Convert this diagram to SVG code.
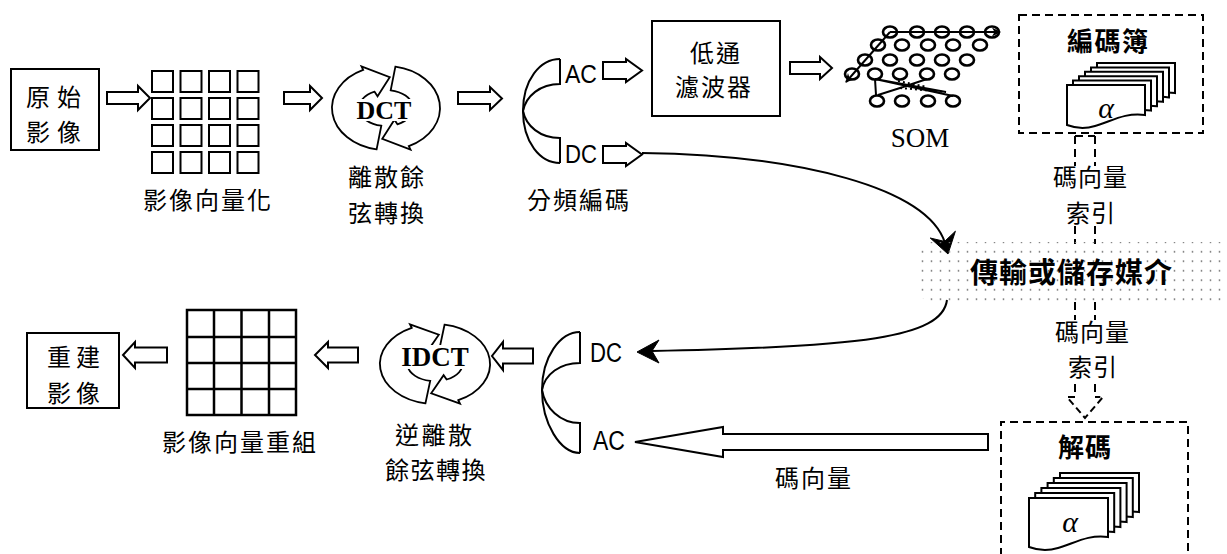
<svg xmlns="http://www.w3.org/2000/svg" width="1227" height="554" viewBox="0 0 1227 554">
<defs>
<style>
.ln{fill:none;stroke:#000;stroke-width:2}
.bx{fill:#fff;stroke:#000;stroke-width:2}
.ha{fill:#fff;stroke:#000;stroke-width:2;stroke-linejoin:miter}
.cy{fill:#fff;stroke:#000;stroke-width:1.8;stroke-linejoin:miter}
.dash{fill:none;stroke:#000;stroke-width:2;stroke-dasharray:8 5}
.cj{font-family:'Noto Sans CJK TC','Noto Sans CJK SC',sans-serif;font-size:24px;fill:#000}
.cjb{font-family:'Noto Sans CJK TC','Noto Sans CJK SC',sans-serif;font-weight:700;fill:#000}
.ac{font-family:'Liberation Sans',Arial,sans-serif;fill:#000}
.sf{font-family:'Liberation Serif','Times New Roman',serif;fill:#000}
.som{fill:none;stroke:#000;stroke-width:2.6}
.card{fill:#fff;stroke:#000;stroke-width:2}
</style>
<pattern id="dots" width="9" height="9.5" patternUnits="userSpaceOnUse">
<circle cx="4.5" cy="4.75" r="0.9" fill="#7a7a7a"/>
</pattern>
<g id="cyc">
<path class="cy" d="M9.38,-41.36 A54,42 0 0 1 22.82,38.07 L24.51,41.69 L-3.75,30.88 L8.45,11.78 L11.41,16.31 A27,18 0 0 0 4.69,-17.73 Z"/>
<path class="cy" d="M-9.38,41.36 A54,42 0 0 1 -22.82,-38.07 L-24.51,-41.69 L3.75,-30.88 L-8.45,-11.78 L-11.41,-16.31 A27,18 0 0 0 -4.69,17.73 Z"/>
</g>
<path id="cardA" class="card" d="M0,0 H78 V30 C58,27 43,37 28,41 C18,44 8,43 0,40 Z"/>
<path id="cardB" class="card" d="M0,0 H79 V39 C59,36 44,46 29,50 C19,53 8,52 0,49 Z"/>
<marker id="fh" viewBox="0 0 10 10" refX="9" refY="5" markerWidth="9" markerHeight="9" orient="auto" markerUnits="userSpaceOnUse">
<path d="M0,0 L10,5 L0,10 L3,5 Z" fill="#000"/>
</marker>
</defs>

<rect width="1227" height="554" fill="#fff"/>

<g id="connectors">
<polygon class="ha" points="107,92 138,92 138,86 150,98 138,110 138,104 107,104"/>
<polygon class="ha" points="284,92 310,92 310,86 322,98 310,110 310,104 284,104"/>
<polygon class="ha" points="458,92 490,92 490,87 502,98.5 490,110 490,104 458,104"/>
<polygon class="ha" points="603,62 626,62 626,59 642,70.5 626,82 626,79 603,79"/>
<polygon class="ha" points="603,146 626,146 626,143 642,154.5 626,166 626,163 603,163"/>
<polygon class="ha" points="790,62 820,62 820,57 832,68 820,79 820,74 790,74"/>
<polygon class="ha" points="167,347.5 135,347.5 135,342 123,355 135,368 135,362.5 167,362.5"/>
<polygon class="ha" points="358,347.5 328,347.5 328,342 315,355 328,368 328,362.5 358,362.5"/>
<polygon class="ha" points="533,348.5 503,348.5 503,342 492,356 503,370 503,363.5 533,363.5"/>
<polygon class="ha" points="988,434 723,434 723,427 635,442 723,457 723,450 988,450"/>
<path class="ln" d="M642,153 C800,155 928,188 945,243"/>
<path d="M948,254 L955.4,231.2 L944.6,241.4 L930.2,238 Z" fill="#000" stroke="#000" stroke-width="1" stroke-linejoin="round"/>
<path class="ln" d="M947,300 C942,338 860,347 652,351"/>
<path d="M637,352 L659,340 L652,351 L659,363 Z" fill="#000" stroke="#000" stroke-width="1" stroke-linejoin="round"/>
<path class="dash" d="M1075,136 H1095"/>
<path class="dash" d="M1075,136 V166 M1095,136 V166"/>
<path class="dash" d="M1075,226 V244 M1095,226 V244"/>
<path class="dash" d="M1075,302 V320 M1095,302 V320"/>
<path class="dash" d="M1075,384 V397 M1095,384 V397"/>
<path class="dash" style="stroke-dasharray:7 4" d="M1075,397 H1067 L1085,418 L1103,397 H1095"/>
</g>

<g id="n-original">
<rect class="bx" x="11" y="69" width="88" height="81"/>
<text class="cj" x="26" y="106" letter-spacing="7">原始</text>
<text class="cj" x="26" y="141" letter-spacing="7">影像</text>
</g>

<g id="n-vectorize">
<g class="bx">
<rect x="152" y="71" width="21" height="21"/><rect x="180.5" y="71" width="21" height="21"/><rect x="209" y="71" width="21" height="21"/><rect x="237.5" y="71" width="21" height="21"/>
<rect x="152" y="98" width="21" height="21"/><rect x="180.5" y="98" width="21" height="21"/><rect x="209" y="98" width="21" height="21"/><rect x="237.5" y="98" width="21" height="21"/>
<rect x="152" y="125" width="21" height="21"/><rect x="180.5" y="125" width="21" height="21"/><rect x="209" y="125" width="21" height="21"/><rect x="237.5" y="125" width="21" height="21"/>
<rect x="152" y="152" width="21" height="21"/><rect x="180.5" y="152" width="21" height="21"/><rect x="209" y="152" width="21" height="21"/><rect x="237.5" y="152" width="21" height="21"/>
</g>
<text class="cj" x="143" y="209" letter-spacing="2">影像向量化</text>
</g>

<g id="n-dct">
<use href="#cyc" transform="translate(386,108)"/>
<rect x="353" y="99" width="63" height="22" fill="#fff"/>
<text class="sf" x="384" y="119" font-size="26" font-weight="700" text-anchor="middle">DCT</text>
<text class="cj" x="348" y="186" letter-spacing="2">離散餘</text>
<text class="cj" x="348" y="222" letter-spacing="2">弦轉換</text>
</g>

<g id="n-split">
<path class="ln" d="M560,59 C540,59 523,80 523,111 C523,142 540,163 560,163"/>
<path class="ln" d="M560,59 V84 C540,84 526,96 523,111 C526,126 540,138 560,138 V163"/>
<text class="ac" x="565" y="83" font-size="25" textLength="32" lengthAdjust="spacingAndGlyphs">AC</text>
<text class="ac" x="565" y="163" font-size="25" textLength="32" lengthAdjust="spacingAndGlyphs">DC</text>
<text class="cj" x="527" y="209" letter-spacing="2">分頻編碼</text>
</g>

<g id="n-lowpass">
<rect class="bx" x="652" y="21" width="128" height="95"/>
<text class="cj" x="690" y="62" letter-spacing="2">低通</text>
<text class="cj" x="675" y="96" letter-spacing="2">濾波器</text>
</g>

<g id="n-som">
<path class="ln" stroke-width="2.2" d="M890,32 L1000,32" marker-end="url(#fh)"/>
<path class="ln" stroke-width="2.2" d="M890,32 L846,82" marker-end="url(#fh)"/>
<g class="som">
<ellipse cx="890" cy="32" rx="7" ry="5.5"/><ellipse cx="917" cy="32" rx="7" ry="5.5"/><ellipse cx="942" cy="32" rx="7" ry="5.5"/><ellipse cx="967" cy="32" rx="7" ry="5.5"/><ellipse cx="992" cy="32" rx="7" ry="5.5"/>
<ellipse cx="878" cy="45" rx="7" ry="5.5"/><ellipse cx="902" cy="45" rx="7" ry="5.5"/><ellipse cx="928" cy="45" rx="7" ry="5.5"/><ellipse cx="953" cy="45" rx="7" ry="5.5"/><ellipse cx="980" cy="45" rx="7" ry="5.5"/>
<ellipse cx="865" cy="60" rx="7" ry="5.5"/><ellipse cx="890" cy="60" rx="7" ry="5.5"/><ellipse cx="917" cy="60" rx="7" ry="5.5"/><ellipse cx="942" cy="60" rx="7" ry="5.5"/><ellipse cx="967" cy="60" rx="7" ry="5.5"/>
<ellipse cx="852" cy="74" rx="7" ry="5.5"/><ellipse cx="875" cy="74" rx="7" ry="5.5"/><ellipse cx="900" cy="74" rx="7" ry="5.5"/><ellipse cx="927" cy="74" rx="7" ry="5.5"/><ellipse cx="952" cy="74" rx="7" ry="5.5"/>
<ellipse cx="877" cy="101" rx="7" ry="5.5"/><ellipse cx="902" cy="101" rx="7" ry="5.5"/><ellipse cx="928" cy="101" rx="7" ry="5.5"/><ellipse cx="953" cy="101" rx="7" ry="5.5"/>
</g>
<path class="ln" d="M875,79 L876,95 M875,79 L953,96 M875,79 L946,92 M878,95 L900,88 L927,79"/>
<path class="ln" stroke-dasharray="2 3" d="M900,88 L946,92 M898,81 L927,87"/>
<text class="sf" x="920" y="147" font-size="27" text-anchor="middle">SOM</text>
</g>

<g id="n-codebook">
<rect class="dash" x="1019" y="15" width="184" height="118"/>
<text class="cjb" x="1067" y="51" font-size="26" letter-spacing="1.5">編碼簿</text>
<use href="#cardA" x="1097" y="63"/>
<use href="#cardA" x="1091" y="67.4"/>
<use href="#cardA" x="1085" y="71.8"/>
<use href="#cardA" x="1079" y="76.2"/>
<use href="#cardA" x="1073" y="80.6"/>
<use href="#cardA" x="1067" y="85"/>
<text class="sf" x="1106" y="118" font-size="30" font-style="italic" text-anchor="middle">α</text>
</g>

<g id="n-index1">
<text class="cj" x="1053" y="186" letter-spacing="1">碼向量</text>
<text class="cj" x="1066" y="222" letter-spacing="1">索引</text>
</g>

<g id="n-medium">
<path d="M931,242 H1227 V302 H931 Q917,302 917,272 Q917,242 931,242 Z" fill="url(#dots)"/>
<text class="cjb" x="970" y="283" font-size="28" letter-spacing="1">傳輸或儲存媒介</text>
</g>

<g id="n-index2">
<text class="cj" x="1055" y="341" letter-spacing="1">碼向量</text>
<text class="cj" x="1068" y="376" letter-spacing="1">索引</text>
</g>

<g id="n-decode">
<path class="dash" d="M1001,556 V422 H1188 V556"/>
<text class="cjb" x="1058" y="457" font-size="26" letter-spacing="1">解碼</text>
<use href="#cardB" x="1060" y="473"/>
<use href="#cardB" x="1053.8" y="478"/>
<use href="#cardB" x="1047.6" y="483"/>
<use href="#cardB" x="1041.4" y="488"/>
<use href="#cardB" x="1035.2" y="493"/>
<use href="#cardB" x="1029" y="498"/>
<text class="sf" x="1070" y="532" font-size="30" font-style="italic" text-anchor="middle">α</text>
</g>

<g id="n-codevec">
<text class="cj" x="775" y="487" letter-spacing="2">碼向量</text>
</g>

<g id="n-merge">
<path class="ln" d="M580,332 C560,332 542,357 542,390 C542,423 560,453 580,453"/>
<path class="ln" d="M580,332 V363 C560,363 545,374 542,390 C545,408 560,423 580,423 V453"/>
<text class="ac" x="590" y="362" font-size="27" textLength="32" lengthAdjust="spacingAndGlyphs">DC</text>
<text class="ac" x="593" y="450" font-size="27" textLength="32" lengthAdjust="spacingAndGlyphs">AC</text>
</g>

<g id="n-idct">
<use href="#cyc" transform="translate(435,364) scale(1.02,0.95)"/>
<rect x="400" y="345" width="70" height="24" fill="#fff"/>
<text class="sf" x="435" y="366" font-size="27" font-weight="700" text-anchor="middle">IDCT</text>
<text class="cj" x="395" y="444" letter-spacing="2.5">逆離散</text>
<text class="cj" x="385" y="479" letter-spacing="1.5">餘弦轉換</text>
</g>

<g id="n-regroup">
<rect x="187" y="310" width="109" height="105" fill="#fff" stroke="#000" stroke-width="2.5"/>
<path fill="none" stroke="#000" stroke-width="2.5" d="M214,310 V415 M241.5,310 V415 M269,310 V415 M187,337 H296 M187,363 H296 M187,389 H296"/>
<text class="cj" x="162" y="451" letter-spacing="2">影像向量重組</text>
</g>

<g id="n-rebuilt">
<rect class="bx" x="27" y="333" width="92" height="75"/>
<text class="cj" x="47" y="366" letter-spacing="5">重建</text>
<text class="cj" x="47" y="402" letter-spacing="5">影像</text>
</g>
</svg>
